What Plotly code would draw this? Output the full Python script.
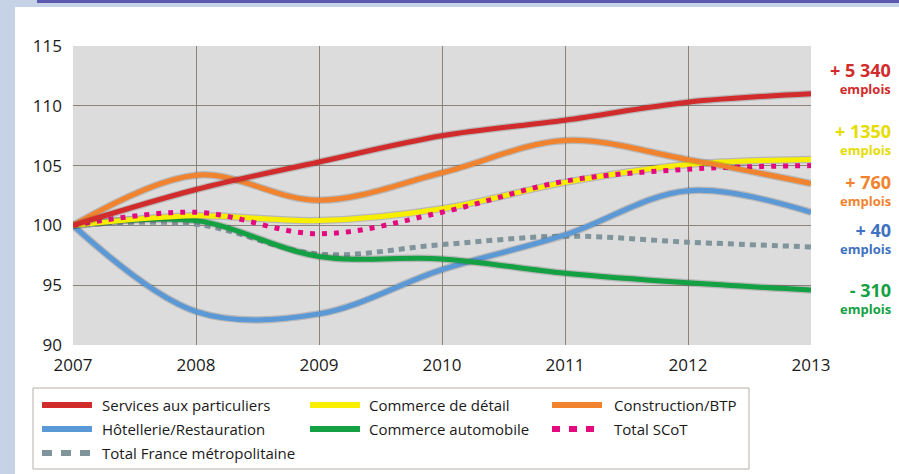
import plotly.graph_objects as go

years = [2007, 2008, 2009, 2010, 2011, 2012, 2013]
services = [100, 103.0, 105.3, 107.5, 108.8, 110.3, 111.0]
commerce_detail = [100, 100.8, 100.4, 101.4, 103.6, 105.1, 105.5]
construction = [100, 104.2, 102.1, 104.4, 107.1, 105.5, 103.5]
hotellerie = [100, 92.8, 92.6, 96.3, 99.2, 102.9, 101.1]
commerce_auto = [100, 100.4, 97.4, 97.2, 96.0, 95.2, 94.6]
total_scot = [100, 101.1, 99.3, 101.1, 103.7, 104.7, 105.0]
total_france = [100, 100.1, 97.6, 98.4, 99.1, 98.6, 98.2]

y_ticks = [90, 95, 100, 105, 110, 115]
x_ticks = years

end_labels = ["+ 5 340", "+ 1350", "+ 760", "+ 40", "- 310"]
end_label_y = [112.35, 107.25, 102.98, 98.93, 93.93]

RED = "#d22b2b"
YELLOW = "#f7ee00"
ORANGE = "#f2832e"
BLUE = "#5a98d6"
GREEN = "#13a143"
PINK = "#e5097f"
GRAY = "#7f949b"

# name, values, colour, dash, legend row, legend column
series = [
    ("Services aux particuliers", services, RED, "solid", 0, 0),
    ("Commerce de détail", commerce_detail, YELLOW, "solid", 0, 1),
    ("Construction/BTP", construction, ORANGE, "solid", 0, 2),
    ("Hôtellerie/Restauration", hotellerie, BLUE, "solid", 1, 0),
    ("Commerce automobile", commerce_auto, GREEN, "solid", 1, 1),
    ("Total SCoT", total_scot, PINK, "5px,7px", 1, 2),
    ("Total France métropolitaine", total_france, GRAY, "6px,5px", 2, 0),
]
draw_order = [6, 3, 4, 1, 5, 2, 0]

PW, PH = 738, 299
def px(x):
    return (x - 73) / PW
def py(y):
    return (345 - y) / PH

fig = go.Figure()
for i in draw_order:
    name, vals, col, dash, r, c = series[i]
    if dash == "solid":
        fig.add_trace(go.Scatter(
            x=years, y=vals, mode="lines", showlegend=False, hoverinfo="skip",
            line=dict(color="rgba(60,60,60,0.22)", width=7.5, shape="spline", smoothing=1.0),
        ))
    fig.add_trace(go.Scatter(
        x=years, y=vals, name=name, mode="lines", showlegend=False,
        line=dict(color=col, width=5, shape="spline", smoothing=1.0, dash=dash),
    ))

label_colors = [RED, "#e6dc00", ORANGE, "#3f72c0", GREEN]
for txt, yv, col in zip(end_labels, end_label_y, label_colors):
    fig.add_annotation(x=1.0, xref="paper", y=yv, yref="y", xshift=82,
                       xanchor="right", yanchor="middle", showarrow=False, align="right",
                       text=f"<span style='font-size:18px'><b>{txt}</b></span><br><b>emplois</b>",
                       font=dict(family="Open Sans", size=13, color=col))

# page decoration
fig.add_shape(type="rect", xref="paper", yref="paper", x0=px(0), x1=px(15),
              y0=py(474), y1=py(0), fillcolor="#c6d3e7", line_width=0, layer="below")
fig.add_shape(type="rect", xref="paper", yref="paper", x0=px(0), x1=px(899),
              y0=py(7), y1=py(0), fillcolor="#c6d3e7", line_width=0, layer="below")
fig.add_shape(type="rect", xref="paper", yref="paper", x0=px(37), x1=px(899),
              y0=py(3), y1=py(0), fillcolor="#5c58b0", line_width=0, layer="below")

# legend box
fig.add_shape(type="rect", xref="paper", yref="paper", x0=px(33), x1=px(749),
              y0=py(469), y1=py(388), fillcolor="white",
              line=dict(color="#b4aea8", width=1))
row_y = [405, 429, 453]
col_sample = [(42, 92), (310, 360), (552, 602)]
col_text = [100, 367, 612]
for name, vals, col, dash, r, c in series:
    x0, x1 = col_sample[c]
    ldash = dash
    if dash == "5px,7px":
        ldash = "8px,9px"
    elif dash == "6px,5px":
        ldash = "10px,9px"
    fig.add_shape(type="line", xref="paper", yref="paper",
                  x0=px(x0), x1=px(x1), y0=py(row_y[r]), y1=py(row_y[r]),
                  line=dict(color=col, width=6, dash=ldash))
    fig.add_annotation(x=px(col_text[c]), xref="paper", y=py(row_y[r]), yref="paper",
                       xanchor="left", yanchor="middle", showarrow=False,
                       text=name, font=dict(family="Open Sans", size=15, color="#1a1a1a"))

fig.update_layout(
    width=899, height=474,
    margin=dict(l=73, r=88, t=46, b=129, autoexpand=False),
    paper_bgcolor="white",
    plot_bgcolor="#dcdcdc",
    font=dict(family="Open Sans", color="#1a1a1a"),
    xaxis=dict(range=[2007, 2013], tickvals=x_ticks, ticktext=[str(v) for v in x_ticks],
               showgrid=True, gridcolor="#8c8478", gridwidth=1, zeroline=False,
               tickfont=dict(size=17), ticks="", showline=False, ticklabelstandoff=8),
    yaxis=dict(range=[90, 115], tickvals=y_ticks, showgrid=True, gridcolor="#8c8478",
               gridwidth=1, zeroline=False, tickfont=dict(size=17), ticks="",
               showline=False, ticklabelstandoff=10),
    showlegend=False,
)

fig.write_html("out.html", config={"displayModeBar": False},
               post_script="document.body.style.margin='0px';")
